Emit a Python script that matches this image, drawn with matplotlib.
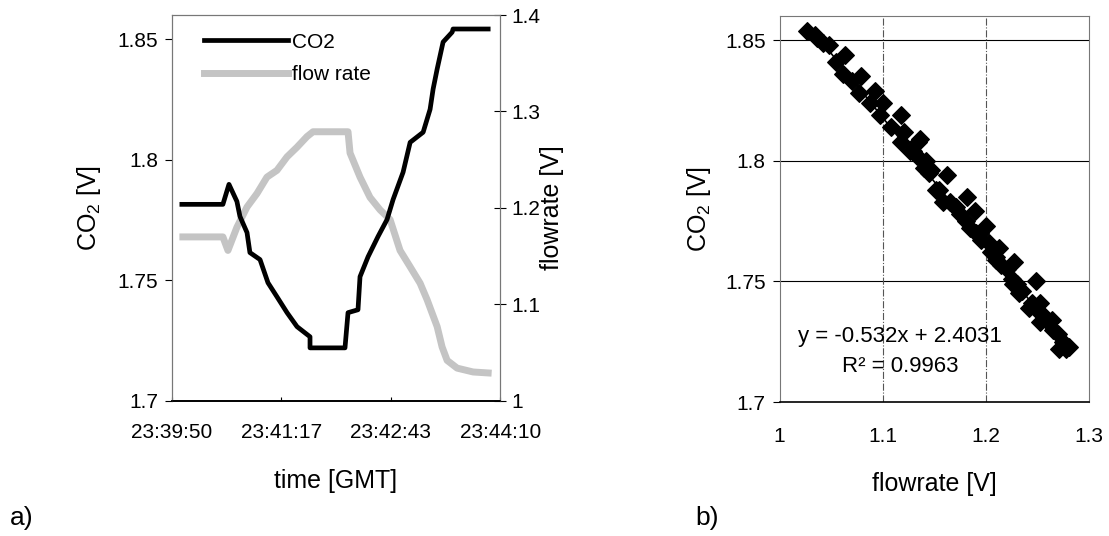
import numpy as np
import matplotlib as mpl
import matplotlib.pyplot as plt

mpl.rcParams['font.family'] = ['Liberation Sans', 'DejaVu Sans']
mpl.rcParams['mathtext.fontset'] = 'custom'
mpl.rcParams['mathtext.rm'] = 'Liberation Sans'
mpl.rcParams['mathtext.it'] = 'Liberation Sans:italic'

# a) time series, seconds after 23:39:50
t_co2 = [7.9, 40.4, 45.2, 51.5, 53.9, 59.5, 61.8, 69.8, 76.1, 83.2, 91.2, 99.1,
         109.4, 109.4, 137.1, 139.5, 147.4, 149.0, 155.4, 163.3, 170.4, 175.2,
         183.1, 188.7, 199.0, 204.5, 206.9, 210.1, 214.8, 222.0, 222.7, 250.5]
co2 = [1.7815, 1.7815, 1.7898, 1.7827, 1.7765, 1.7698, 1.7615, 1.7586, 1.7490,
       1.7432, 1.7366, 1.7308, 1.7266, 1.7220, 1.7220, 1.7366, 1.7378, 1.7515,
       1.7598, 1.7682, 1.7752, 1.7835, 1.7948, 1.8072, 1.8114, 1.8209, 1.8293,
       1.8376, 1.8488, 1.8529, 1.8542, 1.8542]

t_flow = [8.7, 40.4, 44.4, 51.5, 59.5, 67.4, 75.3, 83.2, 91.2, 99.1, 107.0,
          111.8, 139.5, 141.1, 149.0, 156.9, 164.9, 172.8, 180.7, 188.7, 196.6,
          202.1, 210.1, 214.0, 218.0, 225.9, 238.6, 250.5]
flow = [1.170, 1.170, 1.156, 1.180, 1.201, 1.215, 1.232, 1.239, 1.253, 1.263,
        1.274, 1.279, 1.279, 1.257, 1.232, 1.211, 1.198, 1.188, 1.156, 1.139,
        1.122, 1.105, 1.077, 1.056, 1.042, 1.034, 1.030, 1.029]

time_ticks = [0, 86.67, 173.33, 260]
time_labels = ['23:39:50', '23:41:17', '23:42:43', '23:44:10']

# b) CO2 vs flowrate
fr = [1.027, 1.036, 1.042, 1.048, 1.063, 1.061, 1.079, 1.077, 1.092, 1.100,
      1.097, 1.118, 1.121, 1.118, 1.134, 1.133, 1.142, 1.145, 1.152, 1.136,
      1.129, 1.147, 1.162, 1.155, 1.158, 1.182, 1.171, 1.189, 1.181, 1.200,
      1.194, 1.203, 1.213, 1.210, 1.227, 1.220, 1.249, 1.226, 1.232, 1.252,
      1.242, 1.264, 1.252, 1.271, 1.281, 1.165, 1.175, 1.185, 1.195, 1.205,
      1.215, 1.225, 1.235, 1.245, 1.255, 1.265, 1.275, 1.278, 1.034, 1.055,
      1.070, 1.088, 1.108, 1.126, 1.140, 1.170, 1.190, 1.210, 1.230, 1.250,
      1.260, 1.270]
co2_b = [1.854, 1.851, 1.849, 1.848, 1.844, 1.836, 1.835, 1.828, 1.829, 1.824,
         1.819, 1.819, 1.812, 1.808, 1.808, 1.802, 1.800, 1.795, 1.788, 1.809,
         1.804, 1.796, 1.794, 1.788, 1.783, 1.785, 1.781, 1.779, 1.775, 1.773,
         1.770, 1.766, 1.764, 1.760, 1.758, 1.755, 1.750, 1.749, 1.745, 1.741,
         1.739, 1.734, 1.733, 1.722, 1.723, 1.783, 1.778, 1.772, 1.767, 1.762,
         1.757, 1.751, 1.746, 1.741, 1.736, 1.730, 1.725, 1.722, 1.852, 1.841,
         1.833, 1.824, 1.814, 1.804, 1.797, 1.781, 1.770, 1.759, 1.749, 1.738,
         1.733, 1.728]
slope = -0.532
icept = 2.4031

fig = plt.figure(figsize=(11.09, 5.36), dpi=100)

# ---- a)
ax1 = fig.add_axes([0.155, 0.252, 0.296, 0.720])
l1, = ax1.plot(t_co2, co2, color='black', linewidth=3.4, label='CO2')
ax1.set_xlim(0, 260)
ax1.set_ylim(1.7, 1.86)
ax1.set_yticks([1.7, 1.75, 1.8, 1.85])
ax1.set_yticklabels(['1.7', '1.75', '1.8', '1.85'])
ax1.set_xticks(time_ticks)
ax1.set_xticklabels(time_labels)
ax1.tick_params(labelsize=15)
ax1.tick_params(axis='x', direction='in', length=3, pad=16)
ax1.tick_params(axis='y', direction='out', length=5, pad=5)
ax1.set_ylabel('CO$_2$ [V]', fontsize=18, labelpad=10)
ax1.set_xlabel('time [GMT]', fontsize=18, labelpad=19)

ax2 = ax1.twinx()
l2, = ax2.plot(t_flow, flow, color='#c4c4c4', linewidth=5, label='flow rate')
ax2.set_ylim(1.0, 1.4)
ax2.set_yticks([1.0, 1.1, 1.2, 1.3, 1.4])
ax2.set_yticklabels(['1', '1.1', '1.2', '1.3', '1.4'])
ax2.tick_params(labelsize=15, direction='inout', length=8, pad=4)
ax2.set_ylabel('flowrate [V]', fontsize=18, labelpad=0)
ax1.set_zorder(ax2.get_zorder() + 1)
ax1.patch.set_visible(False)

for ax in (ax1, ax2):
    for s in ('left', 'right', 'top'):
        ax.spines[s].set_color('#777777')
        ax.spines[s].set_linewidth(0.8)
    ax.spines['bottom'].set_linewidth(1.2)

ax1.legend(handles=[l1, l2], loc='upper left', frameon=False, fontsize=15,
           handlelength=4.0, handletextpad=0.2, borderaxespad=0.45,
           labelspacing=0.65, bbox_to_anchor=(0.045, 1.0))

# ---- b)
ax3 = fig.add_axes([0.703, 0.250, 0.279, 0.720])
ax3.scatter(fr, co2_b, marker='D', s=80, color='black', zorder=3)
xf = np.array([min(fr), max(fr)])
ax3.plot(xf, slope * xf + icept, color='black', linewidth=1.2, zorder=4)
ax3.set_xlim(1.0, 1.3)
ax3.set_ylim(1.7, 1.86)
ax3.set_xticks([1.0, 1.1, 1.2, 1.3])
ax3.set_xticklabels(['1', '1.1', '1.2', '1.3'])
ax3.set_yticks([1.7, 1.75, 1.8, 1.85])
ax3.set_yticklabels(['1.7', '1.75', '1.8', '1.85'])
ax3.tick_params(labelsize=15)
ax3.tick_params(axis='x', length=0, pad=18)
ax3.tick_params(axis='y', direction='out', length=5, pad=5)
for yv in [1.75, 1.8, 1.85]:
    ax3.axhline(yv, color='black', linewidth=0.8, zorder=1)
for xv in [1.1, 1.2]:
    ax3.axvline(xv, color='#555555', linewidth=0.8, linestyle='-.', zorder=1)
for s in ('left', 'right', 'top'):
    ax3.spines[s].set_color('#777777')
    ax3.spines[s].set_linewidth(0.8)
ax3.spines['bottom'].set_linewidth(1.2)
ax3.set_ylabel('CO$_2$ [V]', fontsize=18, labelpad=9)
ax3.set_xlabel('flowrate [V]', fontsize=18, labelpad=19)
ax3.text(1.117, 1.7272, 'y = -0.532x + 2.4031', fontsize=16, ha='center', va='center')
ax3.text(1.117, 1.7148, 'R² = 0.9963', fontsize=16, ha='center', va='center')

fig.text(0.009, 0.02, 'a)', fontsize=19)
fig.text(0.627, 0.02, 'b)', fontsize=19)

fig.savefig('out.png', dpi=100)
